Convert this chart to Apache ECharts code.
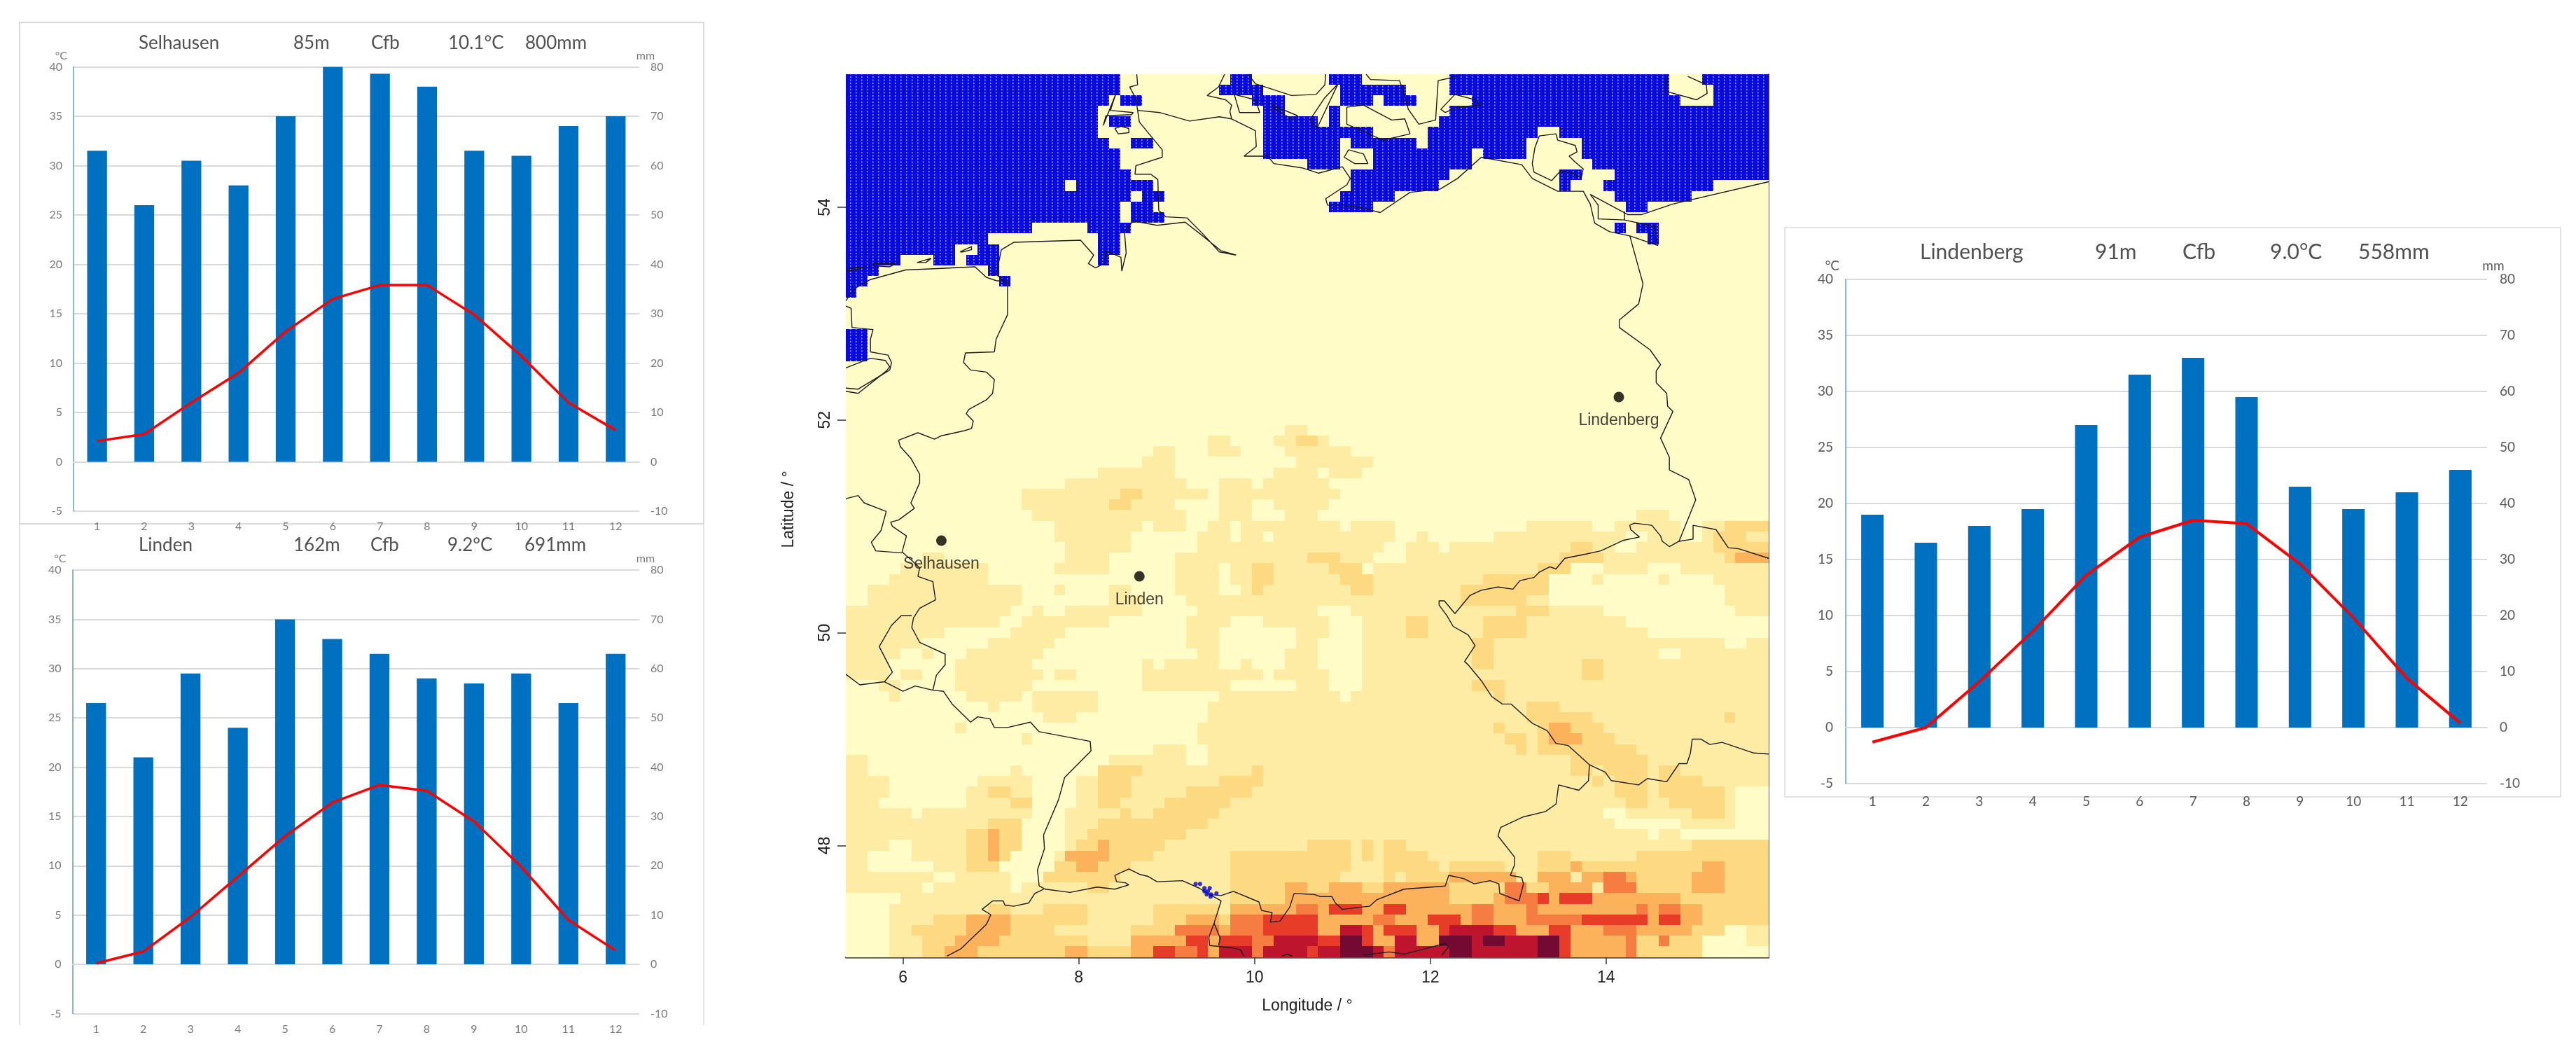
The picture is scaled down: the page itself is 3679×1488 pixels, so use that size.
<!DOCTYPE html>
<html><head><meta charset="utf-8">
<style>html,body{margin:0;padding:0;background:#fff}#c{width:3679px;height:1488px}</style>
<script src="https://cdn.jsdelivr.net/npm/echarts@6/dist/echarts.min.js"></script>
</head><body><div id="c"></div>
<script>
// ---------- climate diagrams ----------
const months = ['1','2','3','4','5','6','7','8','9','10','11','12'];
const selhausenPrecip = [63,52,61,56,70,80,78.6,76,63,62,68,70];
const selhausenTemp   = [2.1,2.8,6,9,13.2,16.5,17.9,17.9,14.9,10.7,6,3.2];
const lindenPrecip    = [53,42,59,48,70,66,63,58,57,59,53,63];
const lindenTemp      = [0.1,1.3,4.8,8.9,13,16.4,18.2,17.6,14.5,9.9,4.5,1.4];
const lindenbergPrecip= [38,33,36,39,54,63,66,59,43,39,42,46];
const lindenbergTemp  = [-1.3,0,4.1,8.6,13.6,17,18.5,18.2,14.6,9.8,4.4,0.4];
const selhausenHeader = ['Selhausen','85m','Cfb','10.1°C','800mm'];
const lindenHeader    = ['Linden','162m','Cfb','9.2°C','691mm'];
const lindenbergHeader= ['Lindenberg','91m','Cfb','9.0°C','558mm'];

// ---------- map: stations, lake, elevation classes ----------
const lonTicks = [6,8,10,12,14];
const latTicks = [48,50,52,54];
const stations = [['Lindenberg',14.145,52.216],['Linden',8.69,50.531],['Selhausen',6.437,50.866]];
const lakePoints = [[9.33,47.64],[9.38,47.64],[9.43,47.60],[9.49,47.60],[9.43,47.57],[9.47,47.57],[9.456,47.54],[9.506,47.54],[9.567,47.55],[9.50,47.52]];
const lonStart = 5.35, lonEnd = 15.85, latTop = 55.25, latBottom = 46.95, cellLon = 0.125, cellLat = 0.1, nCols = 84, nRows = 83;
const classOrder = 'abcdefghS';
// one string per 0.1 degree row from the north; each token: class + column range; default is class a, later tokens win
const elevationRows = {
0:'S0-24 S35-36 S44-46 S55-74 S78-83',
1:'S0-24 S34-37 S45-50 S55-74 S79-83',
2:'S0-23 S25-26 S37-38 S39 S45-47 S49 S50-51 S57-75 S79-83',
3:'S0-22 S38-39 S44 S55-83',
4:'S0-22 S24-25 S38-42 S44 S54-83',
5:'S0-22 S38-47 S53-62 S65-83',
6:'S0-23 S26-27 S38-44 S46-51 S53-61 S67-83',
7:'S0-24 S38-44 S48-56 S58-61 S67-83',
8:'S0-24 S42-44 S48-56 S68-83',
9:'S0-25 S46-54 S65-66 S70-83',
10:'S0-19 S21-27 S46-53 S65 S69-78',
11:'S0-25 S27-28 S45-49 S70-76',
12:'S0-24 S26-27 S44-47 S71-72',
13:'S0-24 S26-28',
14:'S0-16 S22-25 S70 S72-73',
15:'S0-12 S23-24 S73',
16:'S0-9 S12-13 S23-24',
17:'S0-4 S8-9 S11-13 S23',
18:'S0-2 S13',
19:'S0-1 S14',
20:'S0',
24:'S0-1',25:'S0-1',26:'S0-1',
33:'b40-41',
34:'b33-34 b39-43 c41-42',
35:'b28-29 b33-35 b40-45',
36:'b27-29 b41-47',
37:'b23-29 b39-42 b44-46',
38:'b20-30 b34-36 b38-43',
39:'b16-30 c25-26 b31-32 b34-36 b37-44',
40:'b16-29 c24-25 b34-36 b39-43',
41:'b17-30 b34-36 b40-42 b72-74',
42:'b19-26 b28-30 b33-34 b36-38 b39-44 b46-49 b62-67 b70-75 b78-83 c80-83',
43:'b19-25 b32-34 b36-37 b39-49 b52 b59-70 b73-75 b78-83 c79-81',
44:'b20-25 b32-34 b35-48 b51-53 b55-69 b72-83 c66-67 c79-83',
45:'b7-8 b20-23 b30-34 b35-47 c42-44 b51-83 c65-68 c80-83 d81-83',
46:'b5-12 b19-23 b30-33 b35-83 c37-38 c44-46 a47 c63-65 a66-68 a73-75',
47:'b4-12 b30-33 b35-83 c37-38 c45-47 c58-63 a64-67 a69-73 a75-78',
48:'b2-15 b19 b24-25 b30-33 b36-83 c37 c46-47 c56-63 a64-79',
49:'b2-15 b24-26 b31-33 b34-83 c56-61 a64-79',
50:'b0-14 b17 b20-26 b32-83 c61-63 a43-45 a69-80',
51:'b0-13 b16-23 b31-34 b38-83 a44-46 c51-52 c58-61 a71-83',
52:'b0-8 b15-19 b31-33 b41-83 a44-46 c51-52 c58-61 a73-83',
53:'b0-6 b13-18 b31-33 b41-83 a43-46 c57-58 a80-81',
54:'b0-4 b7 b11-17 b32-33 b40-83 a43-46 c57-58 a74-75',
55:'b0-3 b10-16 b27 b29-33 b36 b40-83 a43-46 c57-58 c67-68',
56:'b0-3 b5-6 b10-17 b19-20 b27-37 b39-83 a44-46 c67-68',
57:'b3-4 b10-16 b27-34 b41-83 a44-46 c57-59',
58:'b4 b11-15 b17-22 b34-83 a45 c59',
59:'b13 b17-22 b33-83 c62-64',
60:'b18-20 b33-83 c62-67 c80',
61:'b10 b32-83 c59 c63-68 d64-65',
62:'b16 b32-83 c60-61 c63-69 d64-66',
63:'b28-30 b33-83 c61 c63-71',
64:'b0-1 b24-30 b33-83 c66-72',
65:'b0-1 b15 b23-31 c23-26 b32-83 c37 c66-67 c69-72 c74-75',
66:'b0-3 b12-16 b21-83 c23-25 c34-37 c68 c70-72 c74-77',
67:'b0-3 b11-16 c13-14 b21-83 c23-25 c31-36 c70-72 c74-79 a81-83',
68:'b0-2 b11-16 c15-16 b21-83 c23-24 c29-34 c71-72 c75-79 a81-83',
69:'b0-5 b7-16 b20-83 c25 c28-33 c77-79 a69-70 a81-83',
70:'b0-15 c13-15 b20-83 c23-32 a70-75 a81-83',
71:'b0-15 c11-15 d13 b20-83 c22-30 a73 a76-83',
72:'b0-3 b6-15 c11-15 d13 b20-83 c21-28 d23 c42-45 c47 c49-50 c77-83',
73:'b0-1 b6-14 c11-14 d13 b19-83 c20-27 d20-23 c35-45 c47 c49-52 c63-65 c72-83',
74:'b0-1 b8-13 c11-13 b19-83 c19-25 d21-22 c35-45 c49-53 c55-59 c63-83 d66 d78-79',
75:'b0-7 b10-14 b18-83 c18-24 c35-44 c49 c51-54 d55-60 d63-65 d67-71 e69-70 c72-83 d77-79',
76:'b0-6 b8-14 b16-83 c22-23 c35-39 d40-41 c42-43 d44-46 c47-48 d49-54 c55-59 e60-61 c62-63 d64-67 e69-71 c72-83 d77-79',
77:'b5-34 c35-39 d40-54 c55-58 d59 e60-62 f63 d64 f65-67 d68-83 c76-83',
78:'b4-12 c13-14 b15-17 c18-21 b22-27 c28-33 b34 d35-40 e41-42 d43 f44-46 d47-48 f49-50 d51-56 e57-58 d59-61 e62 d63-71 e72 d73 e74-75 d76-77 c78-83',
79:'b4-7 c8-16 d11-14 c17-21 b22-27 c28-30 d31-33 c34 e35-37 f38-42 d43-47 e48-49 d50-52 f53-55 d56 e57-58 d59-61 e62-66 f67-72 d73 f74-75 d76-77 c78-83',
80:'b4-5 c6-10 d11-14 c15-18 b19-25 c26-29 e30-33 d34 e35-37 f38-42 d43-44 g45-46 f47 d48 f49-51 d52-53 f54-60 g55-58 d61-63 f64-65 d66-68 e69-71 d72-76 c77-79 a80-81 b82-83',
81:'b4-6 c7-9 d10-13 c14-21 b22-25 d26-30 f31-32 d33 f34-36 e37-38 g39-42 f43-44 h45-46 f47 d48-49 g50-51 d52-53 h54-56 g57 h58-59 g60-62 h63-64 f65 d66-70 e71 c72-73 e74 c75-77 a78-81 b82-83',
82:'b4-6 c7-8 d9-11 c12-19 d20-21 c22-25 d26-27 f28-29 e30-31 f32 d33 g34-36 e37 g38-41 f42 g43-44 h45-47 g48 e49 g50-54 h55-56 g57-62 h63-64 f65 d66-70 e71 c72-77 a78-83'
};
const classColors = ['#FFFCC8','#FEECA5','#FDD982','#FBB25A','#F67D41','#E63C28','#BE142D','#730A32','#0808E0'];

// borders and coasts, [lon, lat]
const borderLines = [
[[5.35,53.12],[5.44,53.23],[5.63,53.32],[6.03,53.41],[6.31,53.42],[6.82,53.44],[6.95,53.34],[7.06,53.31],[7.19,53.30],[7.19,52.99],[7.06,52.76],[7.04,52.64],[6.71,52.63],[6.69,52.54],[6.77,52.47],[6.95,52.45],[7.04,52.38],[7.02,52.25],[6.95,52.19],[6.75,52.10],[6.72,52.06],[6.80,51.99],[6.78,51.92],[6.70,51.90],[6.43,51.85],[6.36,51.82],[6.17,51.88],[5.95,51.81],[5.97,51.75],[6.09,51.64],[6.19,51.49],[6.19,51.41],[6.09,51.22],[6.13,51.17],[5.95,51.06],[5.86,51.04],[5.88,51.00],[6.04,50.91],[5.99,50.76],[6.10,50.68],[6.19,50.61],[6.17,50.53],[6.34,50.48],[6.37,50.31],[6.19,50.23],[6.12,50.14],[6.10,50.05],[6.19,49.91],[6.48,49.80],[6.48,49.70],[6.38,49.60],[6.34,49.46],[6.46,49.45],[6.56,49.33],[6.77,49.16],[6.85,49.21],[6.99,49.19],[7.04,49.11],[7.19,49.11],[7.45,49.16],[7.55,49.07],[8.13,48.98],[8.14,48.89],[7.84,48.64],[7.77,48.43],[7.60,48.10],[7.61,47.97],[7.53,47.77],[7.55,47.62],[7.62,47.59],[7.90,47.56],[8.21,47.61],[8.41,47.59],[8.57,47.63],[8.53,47.65],[8.43,47.66],[8.41,47.72],[8.57,47.78],[8.69,47.73],[8.79,47.71],[8.89,47.66],[9.18,47.67],[9.37,47.60],[9.49,47.54],[9.62,47.53],[9.76,47.57],[10.05,47.47],[10.08,47.39],[10.20,47.37],[10.18,47.28],[10.29,47.29],[10.40,47.42],[10.45,47.55],[10.68,47.54],[10.75,47.52],[10.88,47.52],[10.92,47.46],[11.00,47.40],[11.19,47.42],[11.31,47.43],[11.39,47.49],[11.70,47.59],[12.17,47.62],[12.21,47.72],[12.38,47.69],[12.50,47.64],[12.68,47.67],[12.78,47.64],[12.79,47.55],[13.01,47.48],[13.06,47.64],[13.04,47.70],[12.91,47.72],[12.96,47.82],[12.96,47.89],[12.77,48.09],[12.80,48.17],[13.06,48.27],[13.31,48.32],[13.43,48.39],[13.46,48.57],[13.69,48.52],[13.80,48.61],[13.81,48.76],[13.99,48.69],[14.06,48.61],[14.37,48.57],[14.47,48.63],[14.69,48.60],[14.83,48.77],[14.92,48.77],[14.96,48.87],[14.98,49.00],[15.08,49.00],[15.18,48.95],[15.32,48.97],[15.68,48.87],[15.85,48.86]],
[[13.81,48.76],[13.57,48.94],[13.43,48.96],[13.33,49.08],[13.16,49.15],[12.92,49.33],[12.82,49.33],[12.70,49.40],[12.58,49.55],[12.43,49.70],[12.39,49.73],[12.51,49.88],[12.43,49.98],[12.26,50.06],[12.19,50.16],[12.10,50.26],[12.10,50.30],[12.16,50.30],[12.28,50.18],[12.45,50.35],[12.58,50.40],[12.77,50.43],[12.94,50.41],[13.02,50.49],[13.18,50.52],[13.24,50.57],[13.36,50.62],[13.43,50.60],[13.53,50.70],[13.77,50.74],[13.94,50.77],[14.20,50.87],[14.38,50.90],[14.28,50.97],[14.27,51.01],[14.32,51.03],[14.52,51.01],[14.62,50.91],[14.64,50.86],[14.72,50.81],[14.83,50.86],[14.99,50.88],[14.99,51.01],[15.25,50.97],[15.39,50.80],[15.51,50.79],[15.85,50.70]],
[[14.83,50.86],[15.02,51.25],[14.94,51.44],[14.72,51.53],[14.72,51.65],[14.62,51.83],[14.76,52.08],[14.70,52.13],[14.69,52.25],[14.57,52.35],[14.57,52.46],[14.62,52.52],[14.50,52.66],[14.15,52.87],[14.15,52.94],[14.37,53.09],[14.42,53.28],[14.27,53.73]],
[[14.59,53.64],[14.27,53.73],[14.04,53.77],[13.87,53.85],[13.82,54.03],[13.74,54.15],[13.45,54.15],[13.16,54.27],[13.04,54.40],[12.58,54.47],[12.31,54.27],[12.11,54.17],[11.77,54.14],[11.43,53.95],[11.14,54.01],[10.83,54.02],[10.81,54.08],[11.05,54.21],[11.09,54.27],[11.00,54.38],[10.73,54.32],[10.54,54.37],[10.22,54.41],[10.15,54.48],[9.88,54.48],[10.02,54.57],[10.01,54.72],[9.74,54.83],[9.60,54.85],[9.26,54.81],[8.92,54.89],[8.67,54.91],[8.69,54.80],[8.95,54.54],[8.95,54.47],[8.65,54.39],[8.64,54.31],[8.82,54.31],[8.90,54.26],[8.91,53.97],[8.99,53.91],[9.23,53.90],[9.40,53.76],[9.60,53.58],[9.79,53.55],[9.62,53.59],[9.38,53.75],[9.21,53.86],[8.89,53.83],[8.62,53.87],[8.52,53.77],[8.54,53.57],[8.49,53.40],[8.48,53.53],[8.31,53.59],[8.29,53.47],[8.19,53.43],[8.11,53.47],[8.17,53.55],[8.02,53.69],[7.26,53.67],[7.12,53.60],[7.06,53.37],[7.16,53.30]],
[[8.66,55.25],[8.67,55.15],[8.58,55.13],[8.65,55.02],[8.67,54.91]],
[[8.42,55.06],[8.36,54.91],[8.62,54.89],[8.60,54.87],[8.31,54.86],[8.28,54.77],[8.42,55.06]],
[[8.41,54.74],[8.48,54.76],[8.57,54.74],[8.57,54.70],[8.45,54.69],[8.41,54.74]],
[[9.66,55.25],[9.59,55.13],[9.46,55.05],[9.67,55.01],[9.74,54.96],[9.72,54.90],[9.74,54.83]],
[[9.93,55.25],[10.01,55.16],[10.42,55.05],[10.70,55.06],[10.80,55.15],[10.81,55.25]],
[[9.77,55.06],[10.01,55.01],[10.06,54.89],[9.83,54.89],[9.77,55.06]],
[[10.20,54.96],[10.49,54.86],[10.42,54.83],[10.22,54.93],[10.20,54.96]],
[[10.95,55.16],[10.71,54.74],[10.63,54.82],[10.80,55.03],[10.95,55.16]],
[[11.27,55.25],[11.32,55.20],[11.65,55.19],[11.71,55.05],[11.75,54.92],[11.87,54.78],[12.06,54.82],[12.09,55.19],[12.31,55.23]],
[[11.05,54.94],[11.24,54.96],[11.56,54.82],[11.71,54.83],[11.77,54.69],[11.46,54.63],[11.05,54.78],[11.05,54.94]],
[[12.28,55.06],[12.51,55.01],[12.57,54.96],[12.31,54.94],[12.17,54.89],[12.12,54.92],[12.28,55.06]],
[[11.07,54.54],[11.24,54.50],[11.29,54.41],[11.14,54.41],[11.02,54.47],[11.07,54.54]],
[[14.70,55.25],[14.68,55.09],[15.03,55.01],[15.15,55.07],[15.14,55.15],[14.93,55.23]],
[[15.85,54.24],[14.76,54.03],[14.40,53.93],[14.25,53.93],[13.82,54.12],[13.91,54.02],[13.91,53.89],[14.21,53.88],[14.55,53.82],[14.59,53.64]],
[[14.21,53.96],[14.21,53.88]],
[[13.24,54.67],[13.43,54.69],[13.45,54.63],[13.65,54.58],[13.67,54.52],[13.58,54.48],[13.64,54.43],[13.74,54.36],[13.72,54.28],[13.58,54.33],[13.48,54.34],[13.38,54.25],[13.18,54.33],[13.16,54.41],[13.19,54.56],[13.24,54.67]],
[[5.66,53.47],[5.92,53.47],[5.85,53.44],[5.66,53.45],[5.66,53.47]],
[[5.36,53.42],[5.56,53.44],[5.46,53.41],[5.36,53.40]],
[[6.16,53.48],[6.32,53.52],[6.26,53.48],[6.16,53.48]],
[[6.65,53.58],[6.78,53.63],[6.78,53.60],[6.68,53.58],[6.65,53.58]],
[[5.35,53.07],[5.41,53.05],[5.42,52.87],[5.66,52.85],[5.63,52.76],[5.63,52.64],[5.83,52.61],[5.87,52.54],[5.85,52.47],[5.49,52.29],[5.35,52.30]],
[[5.35,52.49],[5.63,52.58],[5.80,52.56],[5.85,52.50],[5.81,52.46],[5.49,52.25],[5.35,52.27]],
[[5.35,51.26],[5.49,51.29],[5.56,51.22],[5.81,51.14],[5.75,50.96],[5.64,50.85],[5.69,50.77],[5.99,50.75]],
[[6.10,50.16],[5.98,50.16],[5.87,50.07],[5.73,49.87],[5.88,49.63],[5.79,49.54],[5.51,49.51],[5.35,49.61]],
[[5.79,49.54],[6.00,49.45],[6.14,49.50],[6.34,49.46]],
[[7.60,47.59],[7.50,47.55],[7.43,47.46],[7.26,47.43],[7.16,47.44],[7.14,47.48],[7.02,47.48],[6.90,47.40],[7.00,47.35],[6.95,47.26],[6.66,47.03],[6.50,46.96]],
[[9.49,47.54],[9.62,47.48],[9.54,47.27],[9.48,47.14],[9.49,47.06],[9.74,47.04],[9.84,47.02],[9.88,46.96]],
[[9.54,47.27],[9.61,47.13],[9.59,47.06]],
[[11.24,46.97],[11.53,47.00],[11.71,46.98],[12.17,47.08],[12.21,47.05],[12.13,46.97]],
[[10.31,46.96],[10.37,46.98],[10.43,46.96]]
];

// ---------- expand elevation rows into cells ----------
const cells = [];
for (let r = 0; r < nRows; r++) {
  const row = new Array(nCols).fill(0);
  (elevationRows[r] || '').split(' ').filter(Boolean).forEach(t => {
    const cls = classOrder.indexOf(t[0]);
    const [a, b] = t.slice(1).split('-').map(Number);
    for (let c = a; c <= (b === undefined ? a : b); c++) row[c] = cls;
  });
  row.forEach((v, c) => cells.push([lonStart + (c + .5) * cellLon, latTop - (r + .5) * cellLat, v]));
}

// sea texture: small blue dots on a pale lattice
const tex = document.createElement('canvas'); tex.width = 8; tex.height = 9;
const tc = tex.getContext('2d');
tc.fillStyle = '#0808E0'; tc.fillRect(0,0,8,9);
tc.fillStyle = 'rgba(225,225,255,.7)'; tc.fillRect(6,1,1.5,2); tc.fillRect(6,5.5,1.5,2);
const seaFill = {image: tex, repeat: 'repeat'};

const FONT = 'Lato', MAPFONT = '"Liberation Sans"';
function climate(i, rect, precip, temp, fs, col, margin, lineW) {
  return {
    grid: {left: rect[0], top: rect[1], width: rect[2], height: rect[3], containLabel: false},
    x: {type:'category', gridIndex:i, data:months, axisTick:{show:false},
        axisLine:{lineStyle:{color:'#D9D9D9',width:2}},
        axisLabel:{color:col,fontSize:fs,fontFamily:FONT,margin:margin}},
    yL: {type:'value', gridIndex:i, min:-5, max:40, interval:5, name:'°C', nameLocation:'end', nameGap:2,
        nameTextStyle:{color:col,fontSize:fs,fontFamily:FONT,align:'right',padding:[0,9,0,0]},
        axisLine:{show:true,onZero:false,lineStyle:{color:'#5B9BD5',width:1.5}},axisTick:{show:false},
        splitLine:{lineStyle:{color:'#D9D9D9',width:2}},
        axisLabel:{color:col,fontSize:fs,fontFamily:FONT,margin:margin+2}},
    yR: {type:'value', gridIndex:i, position:'right', min:-10, max:80, interval:10, name:'mm', nameLocation:'end', nameGap:-2,
        nameTextStyle:{color:col,fontSize:fs,fontFamily:FONT,align:'center',padding:[0,0,0,18]},
        axisLine:{show:false},axisTick:{show:false},splitLine:{show:false},
        axisLabel:{color:col,fontSize:fs,fontFamily:FONT,margin:margin+2}},
    bar: {type:'bar', name:'Precipitation', xAxisIndex:i, yAxisIndex:2*i+1, data:precip, barWidth: rect[2]/12*0.42,
        itemStyle:{color:'#0070C0'}, silent:true, z:3},
    line: {type:'line', name:'Temperature', xAxisIndex:i, yAxisIndex:2*i, data:temp, symbol:'none', smooth:false,
        lineStyle:{color:'#FF0000',width:lineW}, silent:true, z:4}
  };
}
const C1 = climate(0,[105,95.5,808,634.5],selhausenPrecip,selhausenTemp,16,'#7A7A7A',14,3.5);
const C2 = climate(1,[103.5,814,809.5,633.5],lindenPrecip,lindenTemp,16,'#7A7A7A',14,3.5);
const C3 = climate(2,[2636,399,916,720],lindenbergPrecip,lindenbergTemp,19,'#595959',16,4);

const mapTextStyle = {color:'#222',fontFamily:MAPFONT,fontSize:23};
const borderSeries = borderLines.map(l => ({type:'line', xAxisIndex:3, yAxisIndex:6, data:l, symbol:'none', silent:true,
  lineStyle:{color:'#1a1a1a',width:1.4}, z:6, animation:false, clip:true}));

function header(tokens, xs, y, fs) {
  return tokens.map((t,i)=>({type:'text', x:xs[i], y:y, style:{text:t, fill:'#505050', font:fs+'px Lato', textVerticalAlign:'middle'}}));
}

const option = {
  animation:false, backgroundColor:'#fff', tooltip:{show:false}, legend:{show:false},
  grid:[C1.grid,C2.grid,C3.grid,{left:1208,top:106,width:1318,height:1261,show:true,backgroundColor:'#FFFCC8',borderWidth:0}],
  xAxis:[C1.x,C2.x,C3.x,{type:'value',gridIndex:3,min:lonStart,max:lonEnd,name:'Longitude / °',nameLocation:'middle',nameGap:58,
    nameTextStyle:mapTextStyle,splitLine:{show:false},
    axisLine:{show:true,lineStyle:{color:'#555',width:2.5}},
    axisTick:{show:true,length:10,customValues:lonTicks,lineStyle:{color:'#333',width:1.5}},
    axisLabel:{customValues:lonTicks,color:'#222',fontFamily:MAPFONT,fontSize:23,margin:18}}],
  yAxis:[C1.yL,C1.yR,C2.yL,C2.yR,C3.yL,C3.yR,
    {type:'value',gridIndex:3,min:latBottom,max:latTop,name:'Latitude / °',nameLocation:'middle',nameGap:70,nameRotate:90,
     nameTextStyle:Object.assign({},mapTextStyle,{padding:[0,0,0,18]}),splitLine:{show:false},axisLine:{show:false},
     axisTick:{show:true,length:12,customValues:latTicks,lineStyle:{color:'#333',width:1.5}},
     axisLabel:{customValues:latTicks,rotate:90,color:'#222',fontFamily:MAPFONT,fontSize:23,margin:18}},
    {type:'value',gridIndex:3,position:'right',min:latBottom,max:latTop,splitLine:{show:false},axisTick:{show:false},axisLabel:{show:false},
     axisLine:{show:true,lineStyle:{color:'#555',width:2}}}],
  graphic:{elements:[
    {type:'rect',shape:{x:28,y:32,width:977,height:716},style:{fill:'none',stroke:'#DADADA',lineWidth:2},silent:true},
    {type:'polyline',shape:{points:[[28,748],[28,1464]]},style:{stroke:'#DADADA',lineWidth:1.5,fill:'none'},silent:true},
    {type:'polyline',shape:{points:[[1005,748],[1005,1464]]},style:{stroke:'#DADADA',lineWidth:1.5,fill:'none'},silent:true},
    {type:'rect',shape:{x:2549,y:325,width:1108,height:813},style:{fill:'none',stroke:'#DADADA',lineWidth:1.5},silent:true},
    ...header(selhausenHeader,[198,419,530,640,750],61.5,26),
    ...header(lindenHeader,[198,419,529,639,749],779,26),
    ...header(lindenbergHeader,[2742,2992,3117,3242,3368],360,30)
  ]},
  series:[C1.bar,C1.line,C2.bar,C2.line,C3.bar,C3.line,
    {type:'custom',name:'Elevation',xAxisIndex:3,yAxisIndex:6,data:cells,encode:{x:0,y:1},silent:true,z:2,clip:true,
     progressive:0,animation:false,
     renderItem:function(p,api){
       const lo=api.value(0),la=api.value(1),v=api.value(2);
       const a=api.coord([lo-cellLon/2,la+cellLat/2]),b=api.coord([lo+cellLon/2,la-cellLat/2]);
       const x=Math.floor(a[0]),y=Math.floor(a[1]);
       return {type:'rect',shape:{x:x,y:y,width:Math.ceil(b[0])-x,height:Math.ceil(b[1])-y},
         style:{fill:v===8?seaFill:classColors[v]}};
     }},
    ...borderSeries,
    {type:'scatter',name:'Lake',xAxisIndex:3,yAxisIndex:6,data:lakePoints,symbolSize:6,itemStyle:{color:'#0000DC'},silent:true,z:7},
    {type:'scatter',name:'Stations',xAxisIndex:3,yAxisIndex:6,data:stations.map(s=>({name:s[0],value:[s[1],s[2]]})),
     symbolSize:15,itemStyle:{color:'#000'},silent:true,z:8,
     label:{show:true,position:'bottom',distance:15,formatter:'{b}',color:'#111',fontFamily:MAPFONT,fontSize:23}}
  ]
};
echarts.init(document.getElementById('c'),null,{renderer:'canvas'}).setOption(option);
</script></body></html>
